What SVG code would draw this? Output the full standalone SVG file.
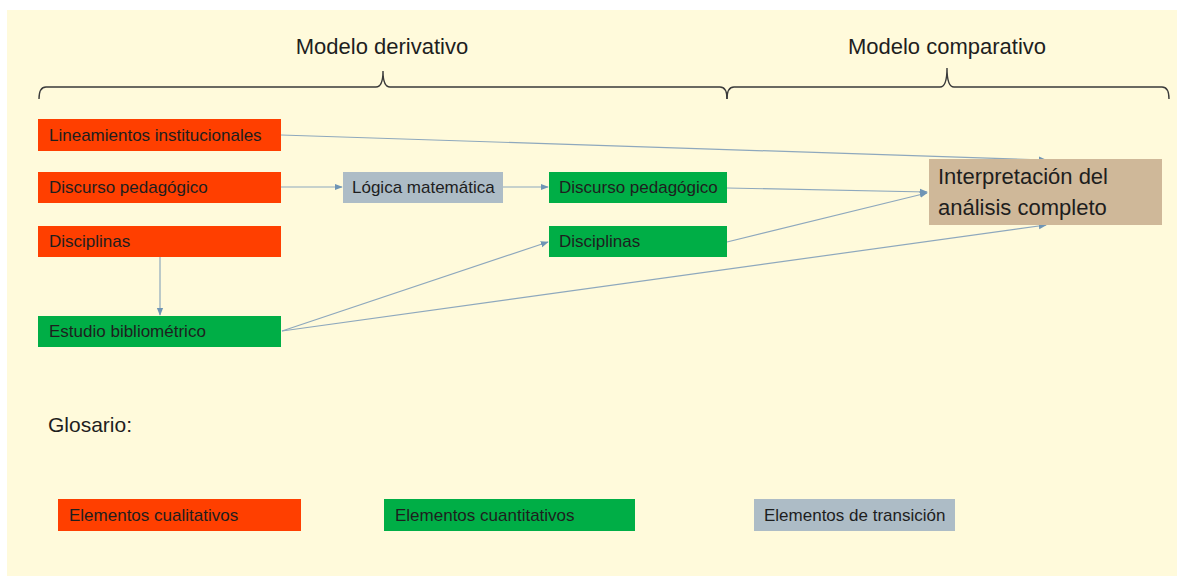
<svg xmlns="http://www.w3.org/2000/svg" width="1177" height="576" viewBox="0 0 1177 576">
<defs>
<style>
.t{font-family:"Liberation Sans",Arial,sans-serif;fill:#1e1e1e}
.n{font-size:17px}
.h{font-size:22px}
.red{fill:#FF3F00}
.grn{fill:#00AE46}
.gry{fill:#ADBCC6}
.tan{fill:#CFB899}
.c{stroke:#8EA8BD;stroke-width:1.2;fill:none;marker-end:url(#ah)}
.br{stroke:#3a3a3a;stroke-width:1.4;fill:none}
</style>
<marker id="ah" viewBox="0 0 10 10" refX="9" refY="5" markerWidth="8" markerHeight="8" markerUnits="userSpaceOnUse" orient="auto">
<path d="M0,1 L10,5 L0,9 Z" fill="#6F95B5"/>
</marker>
</defs>
<rect x="0" y="0" width="1177" height="576" fill="#ffffff"/>
<rect x="7" y="10" width="1170" height="566" fill="#FFFADB"/>

<g id="headers">
<text class="t h" x="382" y="54" text-anchor="middle">Modelo derivativo</text>
<text class="t h" x="947" y="54" text-anchor="middle">Modelo comparativo</text>
<path class="br" d="M39,99 Q39,87 46,87 L376,87 Q383,87 383,71 Q383,87 390,87 L720,87 Q727,87 727,99"/>
<path class="br" d="M727,99 Q727,87 734,87 L940,87 Q947,87 947,68 Q947,87 954,87 L1162,87 Q1169,87 1169,99"/>
</g>

<g id="connectors">
<path class="c" d="M281,135 L1046,160"/>
<path class="c" d="M281,187 L342,187"/>
<path class="c" d="M503,187 L548,187"/>
<path class="c" d="M727,188 L927,192"/>
<path class="c" d="M727,242 L927,193"/>
<path class="c" d="M160,257 L160,315"/>
<path class="c" d="M282,331 L548,242"/>
<path class="c" d="M282,331 L1046,225"/>
</g>

<g id="n-lineamientos"><rect class="red" x="38" y="119" width="243" height="32"/><text class="t n" x="49" y="141">Lineamientos institucionales</text></g>
<g id="n-discurso-red"><rect class="red" x="38" y="172" width="243" height="31"/><text class="t n" x="49" y="193">Discurso pedagógico</text></g>
<g id="n-disciplinas-red"><rect class="red" x="38" y="226" width="243" height="31"/><text class="t n" x="49" y="247">Disciplinas</text></g>
<g id="n-estudio"><rect class="grn" x="38" y="316" width="243" height="31"/><text class="t n" x="49" y="337">Estudio bibliométrico</text></g>
<g id="n-logica"><rect class="gry" x="343" y="172" width="160" height="31"/><text class="t n" x="352" y="193">Lógica matemática</text></g>
<g id="n-discurso-grn"><rect class="grn" x="549" y="172" width="178" height="31"/><text class="t n" x="559" y="193">Discurso pedagógico</text></g>
<g id="n-disciplinas-grn"><rect class="grn" x="549" y="226" width="178" height="31"/><text class="t n" x="559" y="247">Disciplinas</text></g>
<g id="n-interpretacion"><rect class="tan" x="929" y="159" width="233" height="66"/><text class="t h" x="938" y="184">Interpretación del</text><text class="t h" x="938" y="215">análisis completo</text></g>

<g id="glosario">
<text class="t" x="48" y="432" font-size="21">Glosario:</text>
</g>
<g id="l-cualitativos"><rect class="red" x="58" y="499" width="243" height="32"/><text class="t n" x="69" y="521">Elementos cualitativos</text></g>
<g id="l-cuantitativos"><rect class="grn" x="384" y="499" width="251" height="32"/><text class="t n" x="395" y="521">Elementos cuantitativos</text></g>
<g id="l-transicion"><rect class="gry" x="754" y="499" width="201" height="32"/><text class="t n" x="764" y="521">Elementos de transición</text></g>
</svg>
